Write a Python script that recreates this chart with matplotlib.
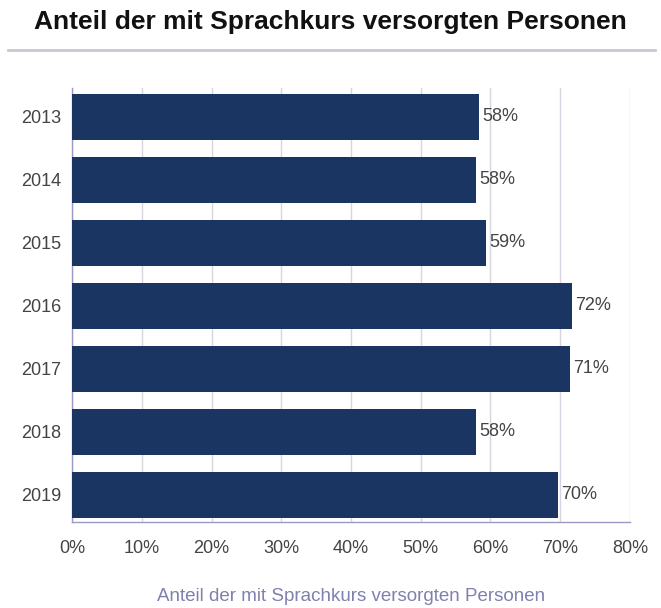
import matplotlib.pyplot as plt
from matplotlib.lines import Line2D
import numpy as np

# Anteil der mit Sprachkurs versorgten Personen, 2013-2019
years = ['2013', '2014', '2015', '2016', '2017', '2018', '2019']
shares = [58.4, 57.9, 59.4, 71.7, 71.4, 57.9, 69.7]
x_ticks = [0, 10, 20, 30, 40, 50, 60, 70, 80]

bar_color = '#1b3562'
text_gray = '#444444'
axis_color = '#9a9ac4'

plt.rcParams['font.family'] = ['Liberation Sans', 'DejaVu Sans']

fig = plt.figure(figsize=(6.61, 6.08), dpi=100)
ax = fig.add_axes([0.109, 0.1414, 0.844, 0.7136])

y = np.arange(len(years))
ax.barh(y, shares, height=0.73, color=bar_color, zorder=3)

for yi, val in zip(y, shares):
    ax.text(val + 0.5, yi, f'{val:.0f}%', va='center', ha='left',
            fontsize=13, color=text_gray, zorder=4)

ax.set_xlim(0, 80)
ax.set_ylim(6.43, -0.45)
ax.set_yticks(y)
ax.set_yticklabels(years, fontsize=13, color=text_gray)
ax.set_xticks(x_ticks)
ax.set_xticklabels([f'{t}%' for t in x_ticks], fontsize=13, color=text_gray)
ax.tick_params(axis='both', length=0, pad=8)
ax.tick_params(axis='x', pad=13)

ax.grid(True, axis='x', color='#d6d6e0', linewidth=1.0, zorder=0)
ax.set_axisbelow(True)

for side in ['top', 'right']:
    ax.spines[side].set_visible(False)
ax.spines['left'].set_color(axis_color)
ax.spines['bottom'].set_color(axis_color)
ax.spines['left'].set_linewidth(1.0)
ax.spines['bottom'].set_linewidth(1.0)

ax.set_xlabel('Anteil der mit Sprachkurs versorgten Personen',
              fontsize=13.5, color='#8080ae', labelpad=22)

# Title with a rule beneath it
fig.text(0.5, 0.963, 'Anteil der mit Sprachkurs versorgten Personen',
         ha='center', va='center', fontsize=19, fontweight='bold',
         color='#111111')
fig.add_artist(Line2D([0.012, 0.991], [0.918, 0.918], transform=fig.transFigure,
                      color='#c8c8d6', linewidth=2.0))

plt.savefig('out.png', dpi=100)
